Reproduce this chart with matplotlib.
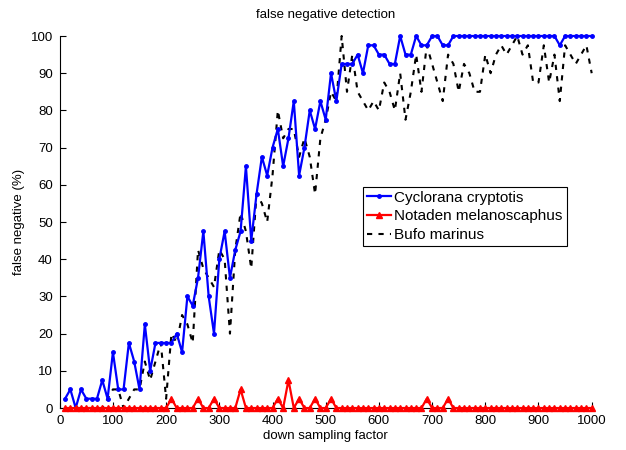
import numpy as np
import matplotlib
matplotlib.use('Agg')
from matplotlib import pyplot as plt

plt.rcParams['font.family'] = ['Liberation Sans', 'DejaVu Sans']

factor = np.arange(10, 1001, 10)

cyclorana = [2.5, 5, 0, 5, 2.5, 2.5, 2.5, 7.5, 2.5, 15,
             5, 5, 17.5, 12.5, 5, 22.5, 10, 17.5, 17.5, 17.5,
             17.5, 20, 15, 30, 27.5, 35, 47.5, 30, 20, 40,
             47.5, 35, 42.5, 47.5, 65, 45, 57.5, 67.5, 62.5, 70,
             75, 65, 72.5, 82.5, 62.5, 70, 80, 75, 82.5, 77.5,
             90, 82.5, 92.5, 92.5, 92.5, 95, 90, 97.5, 97.5, 95,
             95, 92.5, 92.5, 100, 95, 95, 100, 97.5, 97.5, 100,
             100, 97.5, 97.5, 100, 100, 100, 100, 100, 100, 100,
             100, 100, 100, 100, 100, 100, 100, 100, 100, 100,
             100, 100, 100, 97.5, 100, 100, 100, 100, 100, 100]

notaden = [0, 0, 0, 0, 0, 0, 0, 0, 0, 0,
           0, 0, 0, 0, 0, 0, 0, 0, 0, 0,
           2.5, 0, 0, 0, 0, 2.5, 0, 0, 2.5, 0,
           0, 0, 0, 5, 0, 0, 0, 0, 0, 0,
           2.5, 0, 7.5, 0, 2.5, 0, 0, 2.5, 0, 0,
           2.5, 0, 0, 0, 0, 0, 0, 0, 0, 0,
           0, 0, 0, 0, 0, 0, 0, 0, 2.5, 0,
           0, 0, 2.5, 0, 0, 0, 0, 0, 0, 0,
           0, 0, 0, 0, 0, 0, 0, 0, 0, 0,
           0, 0, 0, 0, 0, 0, 0, 0, 0, 0]

bufo = [0, 0, 0, 0, 0, 0, 0, 0, 2.5, 5,
        5, 0, 2.5, 5, 5, 12.5, 7.5, 12.5, 17.5, 2.5,
        20, 17.5, 25, 22.5, 17.5, 42.5, 37.5, 35, 32.5, 42.5,
        40, 20, 42.5, 52.5, 47.5, 37.5, 57.5, 55, 50, 62.5,
        80, 72.5, 75, 75, 67.5, 72.5, 67.5, 57.5, 72.5, 77.5,
        85, 82.5, 100, 85, 95, 85, 82.5, 80, 82.5, 80,
        87.5, 85, 80, 90, 77.5, 85, 95, 85, 97.5, 92.5,
        87.5, 82.5, 95, 92.5, 85, 92.5, 90, 85, 85, 95,
        90, 95, 97.5, 95, 97.5, 100, 95, 97.5, 87.5, 87.5,
        97.5, 87.5, 95, 82.5, 97.5, 95, 92.5, 95, 97.5, 90]

labels = ['Cyclorana cryptotis', 'Notaden melanoscaphus', 'Bufo marinus']

fig = plt.figure(figsize=(6.26, 4.5), dpi=100)
ax = fig.add_axes([0.0954, 0.0933, 0.8498, 0.8267])

ax.plot(factor, cyclorana, color='#0000ff', lw=1.6, marker='.', ms=5,
        label=labels[0], clip_on=False, zorder=3)
ax.plot(factor, notaden, color='#ff0000', lw=1.6, marker='^', ms=4.5,
        label=labels[1], clip_on=False, zorder=4)
ax.plot(factor, bufo, color='black', lw=1.5, ls='--', dashes=(2.5, 3),
        label=labels[2], clip_on=False, zorder=2)

ax.set_xlim(0, 1000)
ax.set_ylim(0, 100)
ax.set_xticks(np.arange(0, 1001, 100))
ax.set_yticks(np.arange(0, 101, 10))
ax.tick_params(direction='in', labelsize=9.5, length=4, pad=5)
ax.spines['top'].set_visible(False)
ax.spines['right'].set_visible(False)

ax.set_title('false negative detection', fontsize=9.5, pad=13)
ax.set_xlabel('down sampling factor', fontsize=9.5, labelpad=2)
ax.set_ylabel('false negative (%)', fontsize=9.5, labelpad=4)

leg = ax.legend(loc='upper left', bbox_to_anchor=(0.58, 0.5844),
                bbox_transform=fig.transFigure, borderaxespad=0,
                fontsize=11, handlelength=1.6, handletextpad=0.2,
                labelspacing=0.3, borderpad=0.25, fancybox=False,
                framealpha=1, edgecolor='black', numpoints=1)
leg.get_frame().set_linewidth(0.8)

fig.savefig('out.png', dpi=100)
